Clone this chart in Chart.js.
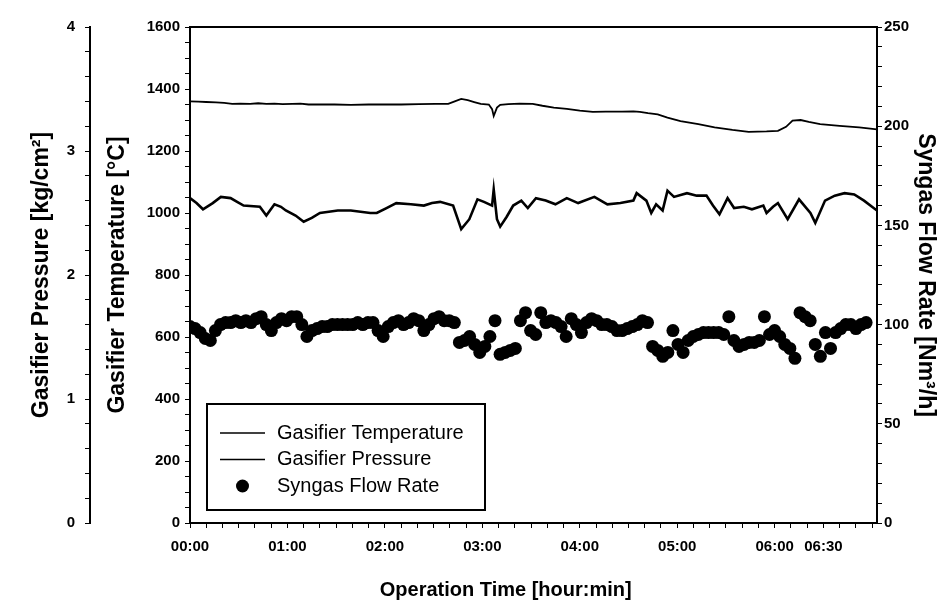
<!DOCTYPE html>
<html>
<head>
<meta charset="utf-8">
<script src="https://cdn.jsdelivr.net/npm/chart.js@4.4.0/dist/chart.umd.min.js"></script>
<style>
  html, body { margin: 0; padding: 0; background: #fff; }
  #wrap { width: 945px; height: 605px; }
</style>
</head>
<body>
<div id="wrap"><canvas id="chart"></canvas></div>
<script>
// time in minutes from start of operation
const timeLabels = [0, 60, 120, 180, 240, 300, 360, 390];
const timeMax = 423;

const tempTime = [0, 5, 10, 16, 21, 26, 31, 37, 42, 47, 52, 57, 63, 68, 73, 78, 89, 99, 110, 120, 130, 141, 151, 159,
  163, 167, 171, 175, 179, 184, 186, 187, 189, 191, 196, 203, 211, 217, 224, 232, 240, 248, 256, 266, 273, 277, 282,
  288, 294, 302, 313, 323, 334, 344, 355, 362, 367, 371, 376, 381, 388, 400, 412, 423];
const tempValue = [1360, 1359, 1358, 1357, 1355, 1352, 1353, 1352, 1354, 1352, 1353, 1351, 1352, 1353, 1350, 1350, 1350,
  1349, 1350, 1350, 1350, 1351, 1352, 1352, 1360, 1368, 1364, 1358, 1352, 1350, 1335, 1313, 1340, 1349, 1351, 1353,
  1352, 1346, 1340, 1336, 1330, 1326, 1327, 1327, 1328, 1326, 1322, 1318, 1308, 1296, 1287, 1276, 1268, 1262, 1263,
  1265, 1278, 1298, 1300, 1294, 1287, 1281, 1276, 1270];

const pressTime = [0, 4, 8, 14, 19, 25, 29, 33, 43, 47, 52, 56, 59, 65, 70, 75, 80, 91, 99, 111, 115, 121, 127, 136, 144,
  149, 154, 162, 167, 172, 177, 181, 186, 187, 189, 191, 195, 199, 204, 208, 213, 219, 225, 232, 239, 249, 257, 265,
  273, 275, 281, 284, 287, 291, 294, 298, 306, 312, 318, 322, 326, 331, 335, 341, 346, 353, 355, 359, 362, 368, 375,
  382, 385, 391, 397, 403, 409, 415, 423];
const pressValue = [2.62, 2.58, 2.53, 2.58, 2.63, 2.62, 2.59, 2.56, 2.55, 2.48, 2.57, 2.55, 2.52, 2.48, 2.43, 2.46, 2.50,
  2.52, 2.52, 2.50, 2.50, 2.54, 2.58, 2.57, 2.56, 2.58, 2.59, 2.56, 2.37, 2.45, 2.61, 2.59, 2.56, 2.69, 2.45, 2.39,
  2.47, 2.56, 2.60, 2.54, 2.62, 2.60, 2.57, 2.62, 2.58, 2.63, 2.57, 2.58, 2.60, 2.66, 2.60, 2.50, 2.57, 2.52, 2.68,
  2.63, 2.66, 2.64, 2.64, 2.56, 2.49, 2.62, 2.54, 2.55, 2.53, 2.56, 2.50, 2.55, 2.58, 2.45, 2.61, 2.50, 2.42, 2.60,
  2.64, 2.66, 2.65, 2.60, 2.52];

// syngas flow logged about every 3.1 minutes
const flowStep = 3.13;
const flowValue = [99, 98, 96, 93, 92, 97, 100, 101, 101, 102, 101, 102, 101, 103, 104, 100, 97, 101, 103, 102, 104,
  104, 100, 94, 97, 98, 99, 99, 100, 100, 100, 100, 100, 101, 100, 101, 101, 97, 94, 99, 101, 102, 100, 101, 103, 102,
  97, 100, 103, 104, 102, 102, 101, 91, 92, 94, 90, 86, 89, 94, 102, 85, 86, 87, 88, 102, 106, 97, 95, 106, 101, 102,
  101, 99, 94, 103, 100, 96, 101, 103, 102, 100, 100, 99, 97, 97, 98, 99, 100, 102, 101, 89, 87, 84, 86, 97, 90, 86,
  92, 94, 95, 96, 96, 96, 96, 95, 104, 92, 89, 90, 91, 91, 92, 104, 95, 97, 94, 90, 88, 83, 106, 104, 102, 90, 84, 96,
  88, 96, 98, 100, 100, 98, 100, 101];

const tickFont = { family: "'Liberation Sans', Arial, sans-serif", size: 15, weight: 'bold' };
const titleFont = { family: "'Liberation Sans', Arial, sans-serif", size: 20, weight: 'bold' };
const sideTitleFont = { family: "'Liberation Sans', Arial, sans-serif", size: 23, weight: 'bold' };

const hhmm = (m) => String(Math.floor(m / 60)).padStart(2, '0') + ':' + String(m % 60).padStart(2, '0');
const near = (v, step) => Math.abs(v / step - Math.round(v / step)) < 1e-6;

function axisStyle(extra) {
  return Object.assign({
    grid: { drawOnChartArea: false, color: '#000', tickLength: 5, tickWidth: 1 },
    border: { color: '#000', width: 2 },
  }, extra);
}

const topBorder = {
  id: 'topBorder',
  afterDraw(chart) {
    const { ctx, chartArea } = chart;
    ctx.save();
    ctx.strokeStyle = '#000';
    ctx.lineWidth = 2;
    ctx.beginPath();
    ctx.moveTo(chartArea.left, chartArea.top);
    ctx.lineTo(chartArea.right, chartArea.top);
    ctx.stroke();
    ctx.restore();
  },
};

const legendBox = {
  id: 'legendBox',
  afterDraw(chart, args, opts) {
    const { ctx, chartArea } = chart;
    const x0 = chartArea.left + opts.left;
    const y0 = chartArea.bottom - opts.bottom - opts.height;
    ctx.save();
    ctx.fillStyle = '#fff';
    ctx.fillRect(x0, y0, opts.width, opts.height);
    ctx.strokeStyle = '#000';
    ctx.lineWidth = 2;
    ctx.strokeRect(x0, y0, opts.width, opts.height);
    ctx.font = opts.font;
    ctx.textBaseline = 'middle';
    chart.data.datasets.forEach((ds, i) => {
      const y = y0 + opts.firstRow + i * opts.rowGap;
      ctx.fillStyle = '#000';
      if (ds.showLine === false) {
        ctx.beginPath();
        ctx.arc(x0 + opts.sampleX + opts.sampleW / 2, y, ds.pointRadius, 0, Math.PI * 2);
        ctx.fill();
      } else {
        ctx.lineWidth = 1.5;
        ctx.beginPath();
        ctx.moveTo(x0 + opts.sampleX, y);
        ctx.lineTo(x0 + opts.sampleX + opts.sampleW, y);
        ctx.stroke();
      }
      ctx.fillText(ds.label, x0 + opts.textX, y);
    });
    ctx.restore();
  },
};

new Chart(document.getElementById('chart'), {
  type: 'line',
  data: {
    datasets: [
      {
        label: 'Gasifier Temperature',
        data: tempTime.map((t, i) => ({ x: t, y: tempValue[i] })),
        yAxisID: 'yT',
        borderColor: '#000',
        borderWidth: 1.8,
        pointRadius: 0,
        tension: 0,
      },
      {
        label: 'Gasifier Pressure',
        data: pressTime.map((t, i) => ({ x: t, y: pressValue[i] })),
        yAxisID: 'yP',
        borderColor: '#000',
        borderWidth: 2.6,
        pointRadius: 0,
        tension: 0,
      },
      {
        label: 'Syngas Flow Rate',
        data: flowValue.map((v, i) => ({ x: i * flowStep, y: v })),
        yAxisID: 'yF',
        showLine: false,
        pointRadius: 6.5,
        pointBorderWidth: 0,
        pointBackgroundColor: '#000',
      },
    ],
  },
  options: {
    responsive: true,
    maintainAspectRatio: false,
    animation: false,
    layout: { padding: { top: 27, left: 0, right: 0, bottom: 0 } },
    plugins: {
      legend: { display: false },
      tooltip: { enabled: false },
      legendBox: {
        left: 17, bottom: 13, width: 278, height: 106,
        firstRow: 29, rowGap: 26.5, sampleX: 13, sampleW: 45, textX: 70,
        font: "20px 'Liberation Sans', Arial, sans-serif",
      },
    },
    scales: {
      x: axisStyle({
        type: 'linear',
        position: 'bottom',
        min: 0,
        max: timeMax,
        afterFit: (s) => { s.height = 82; },
        ticks: {
          stepSize: 10,
          includeBounds: false,
          autoSkip: false,
          maxRotation: 0,
          padding: 10,
          color: '#000',
          font: tickFont,
          callback: (v) => (timeLabels.includes(v) ? hhmm(v) : ''),
        },
        // trailing spaces nudge the centred title left, as in the original figure
        title: { display: true, text: 'Operation Time [hour:min]' + '\u00A0'.repeat(10), color: '#000', font: titleFont, padding: { top: 0, bottom: 3 } },
      }),
      yP: axisStyle({
        type: 'linear',
        position: 'left',
        weight: 2,
        min: 0,
        max: 4,
        afterFit: (s) => { s.width = 90; },
        ticks: {
          stepSize: 0.2,
          autoSkip: false,
          padding: 10,
          color: '#000',
          font: tickFont,
          callback: (v) => (near(v, 1) ? Math.round(v) : ''),
        },
        title: { display: true, text: 'Gasifier Pressure [kg/cm²]', color: '#000', font: sideTitleFont, padding: { top: 28, bottom: 0 } },
      }),
      yT: axisStyle({
        type: 'linear',
        position: 'left',
        weight: 1,
        min: 0,
        max: 1600,
        afterFit: (s) => { s.width = 100; },
        ticks: {
          stepSize: 50,
          autoSkip: false,
          padding: 5,
          color: '#000',
          font: tickFont,
          callback: (v) => (near(v, 200) ? v : ''),
        },
        title: { display: true, text: 'Gasifier Temperature [°C]', color: '#000', font: sideTitleFont, padding: { top: 14, bottom: 0 } },
      }),
      yF: axisStyle({
        type: 'linear',
        position: 'right',
        min: 0,
        max: 250,
        afterFit: (s) => { s.width = 68; },
        ticks: {
          stepSize: 10,
          autoSkip: false,
          padding: 2,
          color: '#000',
          font: tickFont,
          callback: (v) => (near(v, 50) ? v : ''),
        },
        title: { display: true, text: 'Syngas Flow Rate [Nm³/h]', color: '#000', font: sideTitleFont, padding: { top: 6, bottom: 0 } },
      }),
    },
  },
  plugins: [topBorder, legendBox],
});
</script>
</body>
</html>
